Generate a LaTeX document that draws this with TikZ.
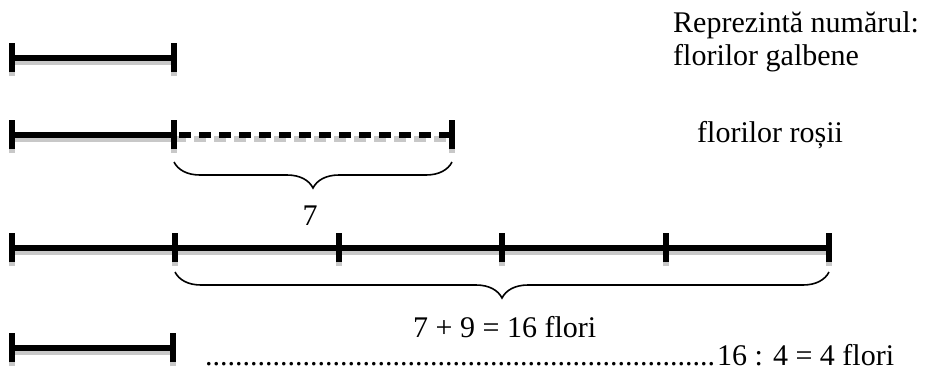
\documentclass[tikz,border=0pt]{standalone}
\usepackage{fontspec}
\setmainfont{Liberation Serif}
\usetikzlibrary{decorations.pathreplacing}
\definecolor{shadowgray}{RGB}{200,200,200}
\tikzset{
  barline/.style={line width=6pt, draw=black},
  shadowline/.style={line width=6pt, draw=shadowgray, transform canvas={yshift=-4pt}},
  dashbar/.style={line width=6pt, draw=black, dash pattern=on 12pt off 8pt},
  dashshadow/.style={line width=6pt, draw=shadowgray, dash pattern=on 12pt off 8pt, transform canvas={yshift=-4pt}},
  bracestyle/.style={line width=1.6pt, decorate, decoration={brace, mirror, amplitude=26pt}},
  lbl/.style={inner sep=0pt, font=\fontsize{30}{34}\selectfont},
}
\begin{document}
\begin{tikzpicture}[x=1pt,y=-1pt]
\useasboundingbox (0,0) rectangle (937,370);
% coordinates
\coordinate (a1) at (12,58);  \coordinate (a2) at (174,58);
\coordinate (b1) at (12,135); \coordinate (b2) at (174,135); \coordinate (b3) at (452,135);
\coordinate (c0) at (12,248); \coordinate (c1) at (175,248); \coordinate (c2) at (339,248);
\coordinate (c3) at (502,248); \coordinate (c4) at (666,248); \coordinate (c5) at (829,248);
\coordinate (d1) at (12,348); \coordinate (d2) at (173,348);
% shadows
\foreach \s/\e in {a1/a2, b1/b2, c0/c5, d1/d2}
  \draw[shadowline] (\s) -- (\e);
\draw[dashshadow] (b2) -- (b3);
\foreach \p in {a1,a2,b1,b2,b3,c0,c1,c2,c3,c4,c5,d1,d2}
  \draw[shadowline] ([yshift=-14pt]\p) -- ([yshift=15pt]\p);
% black lines
\foreach \s/\e in {a1/a2, b1/b2, c0/c5, d1/d2}
  \draw[barline] (\s) -- (\e);
\draw[dashbar] ([xshift=5pt]b2) -- (b3);
\foreach \p in {a1,a2,b1,b2,b3,c0,c1,c2,c3,c4,c5,d1,d2}
  \draw[barline] ([yshift=-14pt]\p) -- ([yshift=15pt]\p);
% braces
\draw[bracestyle] ([yshift=-27pt]b2) -- ([yshift=-27pt]b3);
\draw[bracestyle] ([yshift=-24pt]c1) -- ([yshift=-24pt]c5);
% texts
\node[lbl, anchor=base west] (t1) at (673,32) {Reprezintă numărul:};
\node[lbl, anchor=base west] (t2) at (673,65) {florilor galbene};
\node[lbl, anchor=base west] (t3) at (697,142) {florilor roșii};
\node[lbl, anchor=base] (t4) at (310,225) {7};
\node[lbl, anchor=base west] (t5) at (413,337) {7 + 9 = 16 flori};
\node[lbl, anchor=base west] (t6) at (205,365) {\makebox[512pt][l]{\leaders\hbox{.}\hfill}16 : 4 = 4 flori};
\end{tikzpicture}
\end{document}
